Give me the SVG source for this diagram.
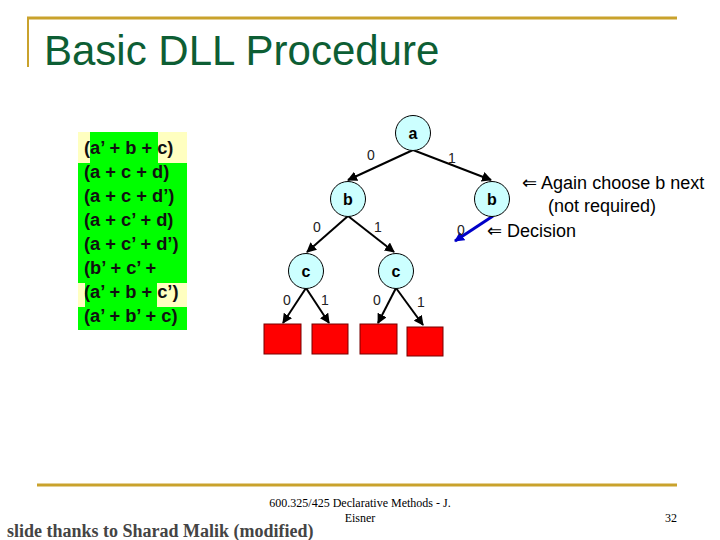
<svg xmlns="http://www.w3.org/2000/svg" width="720" height="540" viewBox="0 0 720 540">
<defs>
<style>
.rule{stroke:#C9A22C;fill:none}
.title{font-family:"Liberation Sans",Arial,sans-serif;font-size:42px;fill:#0D5E34}
.cl{font-family:"Liberation Sans",Arial,sans-serif;font-size:18.3px;font-weight:bold;fill:#111}
.node circle{fill:#CCFFFF;stroke:#000;stroke-width:1}
.node text{font-family:"Liberation Sans",Arial,sans-serif;font-size:16px;font-weight:bold;fill:#000;text-anchor:middle}
.leaf rect{fill:#FF0000;stroke:#700;stroke-width:1}
.edge{stroke:#000;stroke-width:2;fill:none;marker-end:url(#ah)}
.dec{stroke:#0000C8;stroke-width:3;fill:none;marker-end:url(#ahb)}
.el{font-family:"Liberation Sans",Arial,sans-serif;font-size:14px;fill:#222;text-anchor:middle}
.ann{font-family:"Liberation Sans","DejaVu Sans",Arial,sans-serif;font-size:18px;fill:#000}
.foot{font-family:"Liberation Serif","Times New Roman",serif;font-size:12px;fill:#000}
.thanks{font-family:"Liberation Serif","Times New Roman",serif;font-size:18px;font-weight:bold;fill:#444}
</style>
<marker id="ah" viewBox="0 0 10 10" refX="9" refY="5" markerWidth="10" markerHeight="10" markerUnits="userSpaceOnUse" orient="auto">
<path d="M0,0 L10,5 L0,10 z" fill="#000"/>
</marker>
<marker id="ahb" viewBox="0 0 10 10" refX="9" refY="5" markerWidth="10" markerHeight="10" markerUnits="userSpaceOnUse" orient="auto">
<path d="M0,0 L10,5 L0,10 z" fill="#0000C8"/>
</marker>
</defs>
<rect width="720" height="540" fill="#fff"/>

<g id="title">
<line class="rule" x1="27" y1="18" x2="677" y2="18" stroke-width="3"/>
<line class="rule" x1="28" y1="17" x2="28" y2="67" stroke-width="2"/>
<text class="title" x="44" y="65">Basic DLL Procedure</text>
</g>

<g id="clauses">
<rect x="78" y="132" width="109" height="198" fill="#00FF00"/>
<rect x="78" y="132" width="12" height="31" fill="#FFFFC0"/>
<rect x="158" y="132" width="29" height="31" fill="#FFFFC0"/>
<rect x="78" y="283" width="7" height="24" fill="#FFFFC0"/>
<rect x="157" y="283" width="30" height="24" fill="#FFFFC0"/>
<text class="cl" x="84" y="154">(a’ + b + c)</text>
<text class="cl" x="84" y="178">(a + c + d)</text>
<text class="cl" x="84" y="202">(a + c + d’)</text>
<text class="cl" x="84" y="226">(a + c’ + d)</text>
<text class="cl" x="84" y="250">(a + c’ + d’)</text>
<text class="cl" x="84" y="274">(b’ + c’ +</text>
<text class="cl" x="84" y="298">(a’ + b + c’)</text>
<text class="cl" x="84" y="322">(a’ + b’ + c)</text>
</g>

<g id="connectors">
<line class="edge" x1="413" y1="150" x2="348" y2="180"/>
<line class="edge" x1="413" y1="150" x2="491" y2="180"/>
<line class="edge" x1="348" y1="216" x2="307" y2="252"/>
<line class="edge" x1="348" y1="216" x2="394" y2="252"/>
<line class="edge" x1="306" y1="288" x2="283" y2="323"/>
<line class="edge" x1="306" y1="288" x2="329" y2="323"/>
<line class="edge" x1="396" y1="288" x2="378" y2="323"/>
<line class="edge" x1="396" y1="288" x2="423" y2="325"/>
<line class="dec" x1="493" y1="216" x2="455" y2="241"/>
<text class="el" x="371" y="160">0</text>
<text class="el" x="452" y="163">1</text>
<text class="el" x="317" y="232">0</text>
<text class="el" x="378" y="232">1</text>
<text class="el" x="287" y="305">0</text>
<text class="el" x="325" y="305">1</text>
<text class="el" x="377" y="305">0</text>
<text class="el" x="421" y="307">1</text>
<text class="el" x="461" y="235">0</text>
</g>

<g id="node-a" class="node"><circle cx="413" cy="133" r="17.5"/><text x="413" y="139">a</text></g>
<g id="node-b1" class="node"><circle cx="348" cy="199" r="17.5"/><text x="348" y="205">b</text></g>
<g id="node-b2" class="node"><circle cx="492" cy="199" r="17.5"/><text x="492" y="205">b</text></g>
<g id="node-c1" class="node"><circle cx="306" cy="271" r="17.5"/><text x="306" y="277">c</text></g>
<g id="node-c2" class="node"><circle cx="396" cy="271" r="17.5"/><text x="396" y="277">c</text></g>

<g id="leaf-1" class="leaf"><rect x="264" y="324" width="37" height="30"/></g>
<g id="leaf-2" class="leaf"><rect x="312" y="324" width="36" height="30"/></g>
<g id="leaf-3" class="leaf"><rect x="360" y="324" width="37" height="30"/></g>
<g id="leaf-4" class="leaf"><rect x="407" y="327" width="36" height="29"/></g>

<g id="annotations">
<text class="ann" x="522" y="189">⇐ Again choose b next</text>
<text class="ann" x="548" y="212">(not required)</text>
<text class="ann" x="487" y="237">⇐ Decision</text>
</g>

<g id="footer">
<line class="rule" x1="37" y1="485" x2="677" y2="485" stroke-width="3"/>
<text class="foot" x="360" y="507" text-anchor="middle">600.325/425 Declarative Methods - J.</text>
<text class="foot" x="360" y="522" text-anchor="middle">Eisner</text>
<text class="foot" x="677" y="522" text-anchor="end">32</text>
<text class="thanks" x="7" y="537">slide thanks to Sharad Malik (modified)</text>
</g>
</svg>
